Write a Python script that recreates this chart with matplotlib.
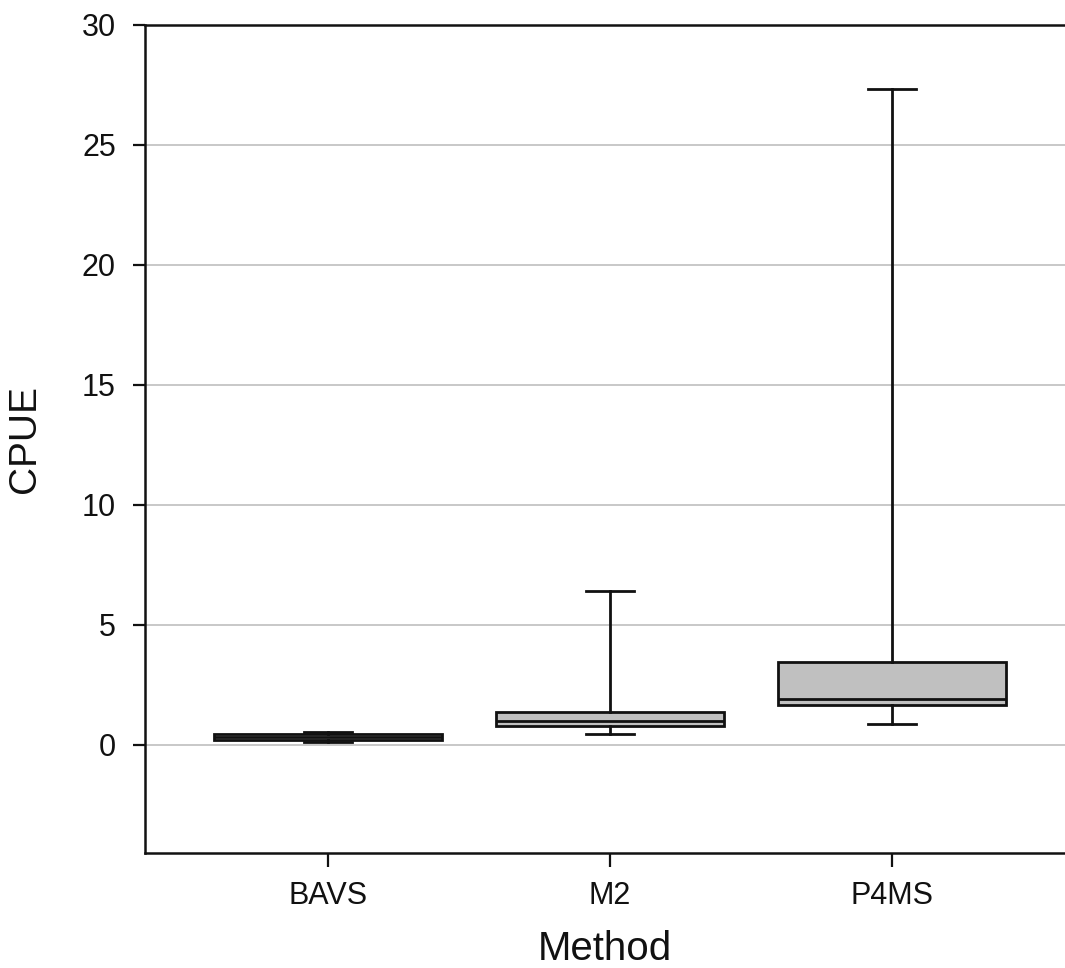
import matplotlib.pyplot as plt

plt.rcParams['font.family'] = ['Liberation Sans', 'DejaVu Sans']

# Box summary values
methods = ["BAVS", "M2", "P4MS"]
whis_lo = [0.12, 0.46, 0.87]
q1 = [0.21, 0.79, 1.66]
median = [0.33, 1.00, 1.91]
q3 = [0.44, 1.37, 3.45]
whis_hi = [0.54, 6.41, 27.34]

stats = []
for i, name in enumerate(methods):
    stats.append({
        "label": name,
        "whislo": whis_lo[i],
        "q1": q1[i],
        "med": median[i],
        "q3": q3[i],
        "whishi": whis_hi[i],
        "fliers": [],
    })

fig = plt.figure(figsize=(10.65, 9.68), dpi=100)
ax = fig.add_axes([145 / 1065, 1 - 853 / 968, 1 - 145 / 1065, (853 - 25) / 968])

lw = 2.0
ax.bxp(
    stats,
    positions=[1, 2, 3],
    widths=0.81,
    patch_artist=True,
    showfliers=False,
    boxprops=dict(facecolor="#c0c0c0", edgecolor="#111111", linewidth=lw),
    medianprops=dict(color="#111111", linewidth=lw),
    whiskerprops=dict(color="#111111", linewidth=lw),
    capprops=dict(color="#111111", linewidth=lw),
    capwidths=0.17,
    zorder=3,
)

ax.set_xlim(0.351, 3.613)
ax.set_ylim(-4.5, 30)
ax.set_yticks(range(0, 31, 5))
ax.set_xticks([1, 2, 3])
ax.set_xticklabels(methods)

ax.yaxis.grid(True, color="#c8c8c8", linewidth=1.4, zorder=0)
ax.set_axisbelow(True)

for side in ["left", "bottom", "top"]:
    ax.spines[side].set_linewidth(1.8)
    ax.spines[side].set_color("#111111")
ax.spines["right"].set_visible(False)

ax.tick_params(axis="both", direction="out", length=10, width=1.6,
               labelsize=22, colors="#111111", pad=10)
ax.tick_params(axis="y", length=9, pad=12)

ax.set_ylabel("CPUE", fontsize=28, labelpad=28, color="#111111")
ax.set_xlabel("Method", fontsize=29, labelpad=14, color="#111111")

fig.savefig("out.png", dpi=100)
